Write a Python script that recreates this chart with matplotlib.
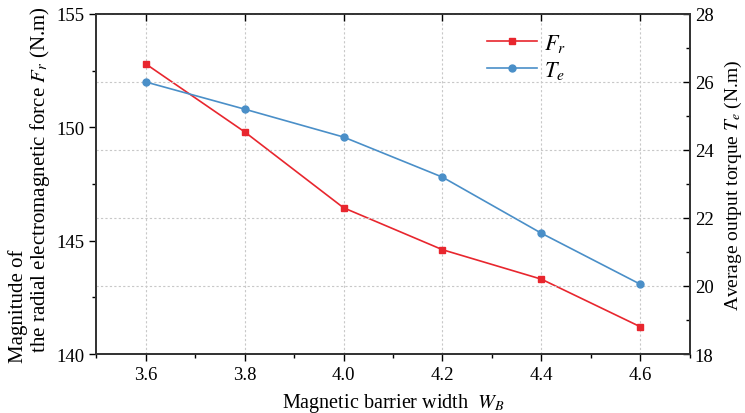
import numpy as np
import matplotlib
matplotlib.use('Agg')
import matplotlib.pyplot as plt
from matplotlib.ticker import MultipleLocator, NullFormatter

# data
wb = [3.6, 3.8, 4.0, 4.2, 4.4, 4.6]
fr = [152.8, 149.8, 146.45, 144.6, 143.3, 141.2]
te = [26.0, 25.2, 24.38, 23.2, 21.55, 20.05]

plt.rcParams['font.family'] = ['Liberation Serif', 'DejaVu Serif']
plt.rcParams['mathtext.fontset'] = 'stix'
plt.rcParams['font.size'] = 13.5

red = '#e8262e'
blue = '#4a8fc8'

fig = plt.figure(figsize=(7.45, 4.14), dpi=100)
ax = fig.add_axes([0.129, 0.1425, 0.797, 0.8215])
ax2 = ax.twinx()
ax3 = ax.twiny()

l1, = ax.plot(wb, fr, color=red, marker='s', markersize=5, linewidth=1.2, label='$F_r$')
l2, = ax2.plot(wb, te, color=blue, marker='o', markersize=5, linewidth=1.2, label='$T_e$')

ax.set_xlim(3.5, 4.7)
ax.set_ylim(140, 155)
ax2.set_ylim(18, 28)
ax3.set_xlim(3.5, 4.7)

ax.set_xticks(wb)
ax.xaxis.set_minor_locator(MultipleLocator(0.1))
ax.yaxis.set_major_locator(MultipleLocator(5))
ax.yaxis.set_minor_locator(MultipleLocator(2.5))
ax2.yaxis.set_major_locator(MultipleLocator(2))
ax2.yaxis.set_minor_locator(MultipleLocator(1))
ax3.set_xticks(wb)
ax3.xaxis.set_major_formatter(NullFormatter())

ax.tick_params(axis='x', which='major', direction='out', length=5, width=1)
ax.tick_params(axis='x', which='minor', direction='out', length=3, width=1)
ax.tick_params(axis='y', which='major', direction='out', length=5, width=1)
ax.tick_params(axis='y', which='minor', direction='out', length=3, width=1)
ax2.tick_params(axis='y', which='major', direction='in', length=5, width=1)
ax2.tick_params(axis='y', which='minor', direction='in', length=3, width=1)
ax3.tick_params(axis='x', which='major', direction='in', length=5, width=1)

for a in (ax, ax2, ax3):
    for s in a.spines.values():
        s.set_linewidth(1.1)
        s.set_color('#333333')

ax.grid(axis='x', color='#c8c8c8', linestyle=(0, (2, 2)), linewidth=0.8)
ax2.grid(axis='y', color='#c8c8c8', linestyle=(0, (2, 2)), linewidth=0.8)
ax.set_axisbelow(True)
ax2.set_axisbelow(True)

ax.set_xlabel('Magnetic barrier width  $W_B$', fontsize=14.5, labelpad=6)
ax.set_ylabel('Magnitude of\n  the radial electromagnetic force $F_r$ (N.m)',
              fontsize=15, multialignment='left', linespacing=0.95)
ax2.set_ylabel('Average output torque $T_e$ (N.m)', fontsize=14)
ax.yaxis.set_label_coords(-0.075, 0.5)
ax2.yaxis.set_label_coords(1.056, 0.5)

ax2.legend([l1, l2], ['$F_r$', '$T_e$'], loc='upper left', bbox_to_anchor=(0.625, 1.005),
           frameon=False, fontsize=16, handlelength=2.25, labelspacing=0.2,
           handletextpad=0.3)

fig.savefig('out.png', dpi=100)
